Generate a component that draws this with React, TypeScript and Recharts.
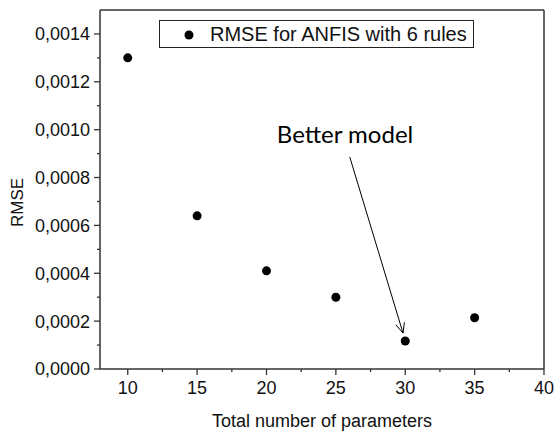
import React from "react";
import { Label, Legend, ReferenceDot, ReferenceLine, Scatter, ScatterChart, XAxis, YAxis } from "recharts";

const params = [10, 15, 20, 25, 30, 35];
const rmse = [0.0013, 0.00064, 0.00041, 0.0003, 0.000117, 0.000214];

const xMajor = [10, 15, 20, 25, 30, 35, 40];
const xMinor = [12.5, 17.5, 22.5, 27.5, 32.5, 37.5];
const yMajor = [0, 0.0002, 0.0004, 0.0006, 0.0008, 0.001, 0.0012, 0.0014];
const yMinor = [0.0001, 0.0003, 0.0005, 0.0007, 0.0009, 0.0011, 0.0013];

// annotation anchors, in data units
const arrowFrom = { x: 26.0, y: 0.000886 };
const arrowTo = { x: 29.84, y: 0.00015 };
const noteAt = { x: 25.66, y: 0.000982 };

const FONT = "'Liberation Sans', Arial, sans-serif";
const AXIS = "#333";

const data = params.map((p, i) => ({ x: p, y: rmse[i] }));

const isMajor = (v: number, majors: number[]) => majors.some((m) => Math.abs(m - v) < 1e-9);

function XTick({ x, y, payload }: any) {
  const major = isMajor(payload.value, xMajor);
  return (
    <g>
      <line x1={x} y1={y} x2={x} y2={y + (major ? 6 : 3)} stroke={AXIS} strokeWidth={1.3} />
      {major && (
        <text x={x} y={y + 25} textAnchor="middle" fontSize={18} fontFamily={FONT} fill="#111">
          {payload.value}
        </text>
      )}
    </g>
  );
}

function YTick({ x, y, payload }: any) {
  const major = isMajor(payload.value, yMajor);
  return (
    <g>
      <line x1={x - (major ? 6 : 3)} y1={y} x2={x} y2={y} stroke={AXIS} strokeWidth={1.3} />
      {major && (
        <text x={x - 10} y={y} dy="0.36em" textAnchor="end" fontSize={18} fontFamily={FONT} fill="#111">
          {payload.value.toFixed(4).replace(".", ",")}
        </text>
      )}
    </g>
  );
}

function Dot({ cx, cy }: any) {
  return <circle cx={cx} cy={cy} r={4.5} fill="#000" />;
}

function Arrow({ x1, y1, x2, y2 }: any) {
  const a = Math.atan2(y2 - y1, x2 - x1);
  const len = 11;
  const spread = 0.42;
  const l = { x: x2 - len * Math.cos(a - spread), y: y2 - len * Math.sin(a - spread) };
  const r = { x: x2 - len * Math.cos(a + spread), y: y2 - len * Math.sin(a + spread) };
  return (
    <g stroke="#000" strokeWidth={1} fill="none">
      <line x1={x1} y1={y1} x2={x2} y2={y2} />
      <polyline points={`${l.x},${l.y} ${x2},${y2} ${r.x},${r.y}`} />
    </g>
  );
}

function Note({ cx, cy }: any) {
  return (
    <text x={cx} y={cy} dy="0.36em" textAnchor="middle" fontSize={24} fontFamily="Lato, 'Open Sans', sans-serif" fill="#000">
      Better model
    </text>
  );
}

function LegendBox() {
  return (
    <div
      style={{
        width: 315,
        height: 28,
        boxSizing: "border-box",
        border: "1px solid #222",
        background: "#fff",
        display: "flex",
        alignItems: "center",
        fontFamily: FONT,
        fontSize: 20,
        color: "#111",
      }}
    >
      <svg width={50} height={26}>
        <circle cx={29} cy={14} r={4.5} fill="#000" />
      </svg>
      <span>RMSE for ANFIS with 6 rules</span>
    </div>
  );
}

function YLabel({ viewBox }: any) {
  const cx = viewBox.x + 16.5;
  const cy = viewBox.y + viewBox.height / 2 + 13;
  return (
    <text x={cx} y={cy} dy="0.36em" textAnchor="middle" fontSize={17} fontFamily={FONT} fill="#111" transform={`rotate(-90 ${cx} ${cy})`}>
      RMSE
    </text>
  );
}

export default function App() {
  return (
    <div style={{ position: "absolute", left: 0, top: 0, width: 555, height: 435, background: "#fff" }}>
      <ScatterChart width={555} height={435} margin={{ top: 10, right: 11, left: 0, bottom: 0 }}>
        <XAxis
          type="number"
          dataKey="x"
          domain={[8, 40]}
          ticks={[...xMajor, ...xMinor].sort((a, b) => a - b)}
          interval={0}
          tickLine={false}
          tickSize={0}
          tickMargin={0}
          tick={<XTick />}
          axisLine={{ stroke: AXIS, strokeWidth: 1.5 }}
          height={66}
        >
          <Label value="Total number of parameters" position="insideBottom" offset={8} fontSize={18} fontFamily={FONT} fill="#111" />
        </XAxis>
        <YAxis
          type="number"
          dataKey="y"
          domain={[0, 0.0015]}
          ticks={[...yMajor, ...yMinor].sort((a, b) => a - b)}
          interval={0}
          tickLine={false}
          tickSize={0}
          tickMargin={0}
          tick={<YTick />}
          axisLine={{ stroke: AXIS, strokeWidth: 1.5 }}
          width={100}
        >
          <Label content={<YLabel />} />
        </YAxis>
        <ReferenceLine y={0.0015} stroke={AXIS} strokeWidth={1.5} />
        <ReferenceLine x={40} stroke={AXIS} strokeWidth={1.5} />
        <Legend
          layout="vertical"
          align="center"
          verticalAlign="middle"
          content={<LegendBox />}
          wrapperStyle={{ position: "absolute", left: 159, top: 20, width: 315 }}
        />
        <Scatter name="RMSE for ANFIS with 6 rules" data={data} fill="#000" shape={<Dot />} isAnimationActive={false} />
        <ReferenceLine segment={[arrowFrom, arrowTo]} shape={<Arrow />} />
        <ReferenceDot x={noteAt.x} y={noteAt.y} r={0} shape={<Note />} />
      </ScatterChart>
    </div>
  );
}
